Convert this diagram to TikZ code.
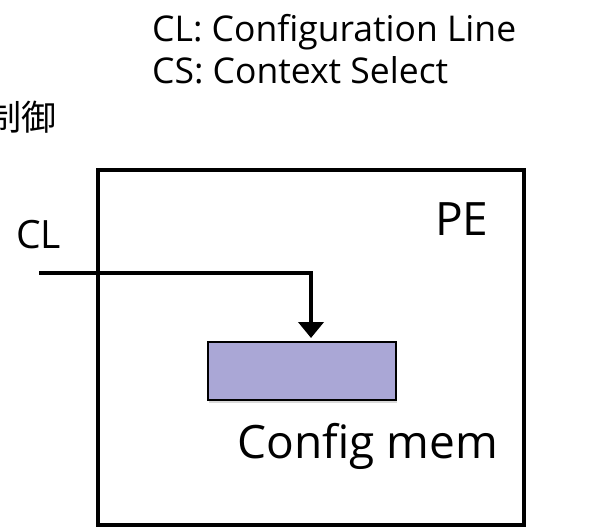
\documentclass[tikz,border=0pt]{standalone}
\usepackage{fontspec}
\setmainfont{Open Sans}
\newfontfamily\jpfont{Noto Sans CJK JP}
\usetikzlibrary{arrows.meta, positioning, shadows}
\definecolor{memfill}{RGB}{170,167,214}

\tikzset{
  pebox/.style={draw, line width=4pt, minimum width=426pt, minimum height=355pt, inner sep=0pt},
  membox/.style={draw, line width=2pt, fill=memfill, minimum width=188pt, minimum height=58pt, inner sep=0pt,
    drop shadow={opacity=0.3, shadow xshift=1pt, shadow yshift=-3pt}},
  wire/.style={line width=4pt},
  lbl/.style={inner sep=0pt, font=\fontsize{39}{44}\selectfont},
  bigl/.style={inner sep=0pt, font=\fontsize{46}{52}\selectfont},
  note/.style={inner sep=0pt, anchor=base west, font=\fontsize{35.5}{42}\selectfont}
}

\begin{document}
\begin{tikzpicture}[x=1pt, y=1pt]
\useasboundingbox (0,0) rectangle (593,-530);
% legend
\node[note] (legcl) at (152,-41) {CL: Configuration Line};
\node[note] (legcs) at (152,-83) {CS: Context Select};
\node[inner sep=0pt, anchor=east, font=\jpfont\fontsize{35}{40}\selectfont] (ctrl) at (57,-117) {制御};
% PE
\node[pebox] (pe) at (311,-347.5) {};
\node[bigl, anchor=base west] (pename) at (435,-235) {PE};
\node[membox] (mem) at (302,-371) {};
\node[bigl, anchor=base west] (memname) at (237,-458) {Config mem};
% CL
\node[lbl, anchor=base west] (clname) at (16,-248) {CL};
\coordinate (clin) at (39,-273);
\draw[wire, -{Triangle[width=25pt, length=16pt]}, shorten >=3pt] (clin) -| ([xshift=9pt]mem.north);
\end{tikzpicture}
\end{document}
